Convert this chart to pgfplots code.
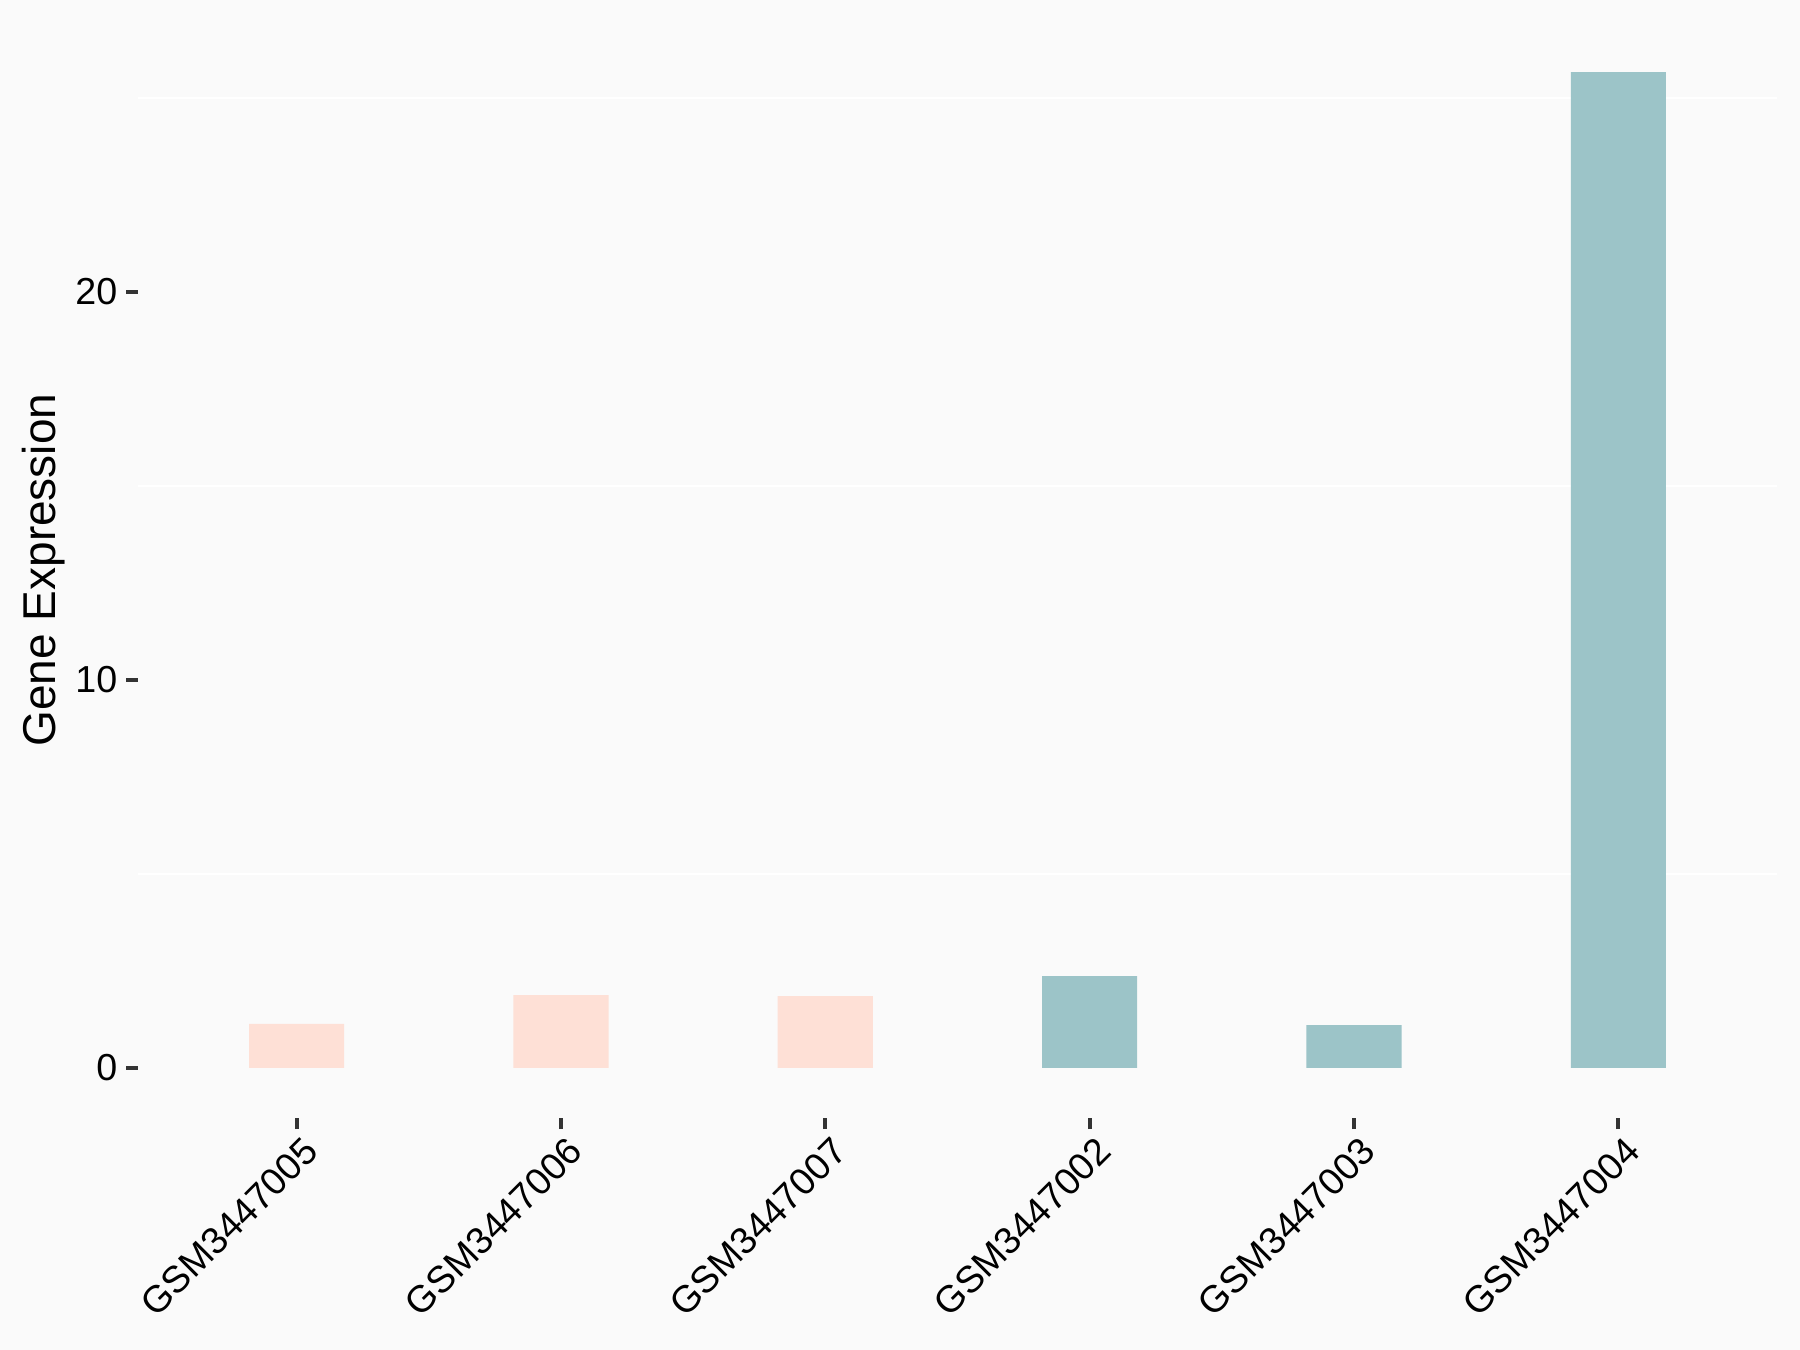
\documentclass[border=0pt]{standalone}
\usepackage{pgfplots}
\pgfplotsset{compat=1.18}
\usepackage{fontspec}
\setmainfont{Liberation Sans}
\definecolor{bgc}{HTML}{FAFAFA}
\definecolor{pinkc}{HTML}{FEE0D6}
\definecolor{tealc}{HTML}{9CC4C8}
\definecolor{tickc}{HTML}{333333}
\begin{document}
\begin{tikzpicture}
\fill[bgc] (-34.5pt,-58.1pt) rectangle (415.5pt,279.4pt);
\begin{axis}[
  at={(0,0)}, anchor=south west,
  scale only axis,
  width=409.75pt, height=273.8pt,
  xmin=-0.6, xmax=5.6,
  ymin=-1.283, ymax=26.94,
  axis x line*=bottom, axis y line*=left,
  axis line style={draw=none},
  xtick={0,1,2,3,4,5},
  xticklabels={GSM3447005,GSM3447006,GSM3447007,GSM3447002,GSM3447003,GSM3447004},
  ytick={0,10,20},
  minor ytick={5,15,25},
  yminorgrids=true,
  minor grid style={white, line width=0.45pt},
  minor tick length=0pt,
  major tick length=2.9pt,
  tick align=outside,
  tick style={draw=tickc, line width=1.05pt},
  /pgf/number format/assume math mode=true,
  ticklabel style={font=\fontsize{9.4}{11.3}\selectfont, text=black},
  xticklabel style={xshift=1.3pt, yshift=-1.3pt, rotate=45, anchor=north east, inner sep=0pt},
  yticklabel style={inner sep=0pt, xshift=-2.1pt},
  ylabel={Gene Expression},
  ylabel style={font=\fontsize{11.5}{13.8}\selectfont, at={(axis description cs:0,0.5)}, anchor=center, yshift=23.6pt},
  ybar, bar width=0.36, bar shift=0pt,
  clip=false,
]
\addplot[fill=pinkc, draw=none] coordinates {(0,1.13) (1,1.87) (2,1.85)};
\addplot[fill=tealc, draw=none] coordinates {(3,2.36) (4,1.10) (5,25.66)};
\end{axis}
\end{tikzpicture}
\end{document}
